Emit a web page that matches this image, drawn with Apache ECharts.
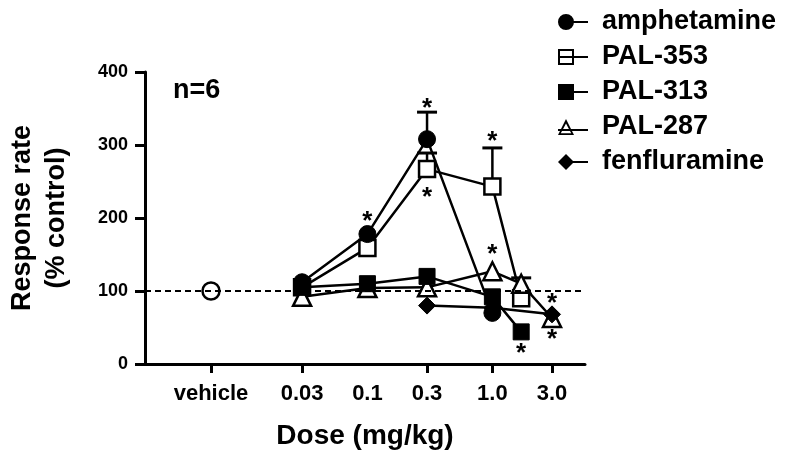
<!DOCTYPE html>
<html>
<head>
<meta charset="utf-8">
<script src="https://cdn.jsdelivr.net/npm/echarts@6/dist/echarts.min.js"></script>
<style>html,body{margin:0;padding:0;background:#fff;}#chart{width:793px;height:462px;}</style>
</head>
<body>
<div id="chart"></div>
<script>
// ---- data ----
const doses = [0.03, 0.1, 0.3, 1.0, 1.7, 3.0];
const amphetamine  = [112, 178, 308, 70, null, null];
const pal353       = [105, 159, 267, 243, 90, null];
const pal313       = [105, 110, 120, 92, 44, null];
const pal287       = [92, 104, 105, 127, 110, 63];
const fenfluramine = [null, null, 80, 77, null, 68];

const amphetamineErrTop = [null, null, 345, null, null, null];
const pal353ErrTop      = [null, null, 289, 296, null, null];
const pal287ErrTop      = [null, null, null, null, 118, null];

const vehicleDosePos = 0.0056;
const vehicleValue = 100;

const tickLabels = ['vehicle', '0.03', '0.1', '0.3', '1.0', '3.0'];
const tickLabelDoses = [0.0056, 0.03, 0.1, 0.3, 1.0, 3.0];
const tickMarkDoses = [0.0056, 0.03, 0.3, 1.0, 3.0];

const starDoses  = [0.1, 0.3, 0.3, 1.0, 1.0, 1.7, 3.0, 3.0];
const starValues = [201, 357, 234, 311, 156, 21, 89, 40];

const axisMinDose = 0.00166;
const axisMaxDose = 5.51;
const yTicks = [0, 100, 200, 300, 400];

// ---- helpers ----
const L = Math.log10;
function pairs(vals) {
  const out = [];
  vals.forEach((v, i) => { if (v != null) out.push([L(doses[i]), v]); });
  return out;
}
function errData(vals, tops) {
  const out = [];
  tops.forEach((t, i) => { if (t != null) out.push([L(doses[i]), vals[i], t]); });
  return out;
}
const FONT = '"Liberation Sans", Arial, sans-serif';

const icons = {
  fcircle: 'path://M0,8 A8,8 0 1,1 16,8 A8,8 0 1,1 0,8 Z M8,7 L30,7 L30,9 L8,9 Z',
  osquare: 'path://M0,0 L16,0 L16,16 L0,16 Z M2,2 L2,14 L14,14 L14,2 Z M0,7 L30,7 L30,9 L0,9 Z',
  fsquare: 'path://M0,0 L16,0 L16,16 L0,16 Z M8,7 L30,7 L30,9 L8,9 Z',
  otri: 'path://M8,0 L16,16 L0,16 Z M8,4.5 L2.8,14.2 L13.2,14.2 Z M0,10 L30,10 L30,12 L0,12 Z',
  fdiamond: 'path://M8,0 L16,8 L8,16 L0,8 Z M8,7 L30,7 L30,9 L8,9 Z'
};

const lineStyle = { color: '#000', width: 2.5 };

function errSeries(data) {
  return {
    type: 'custom', silent: true, z: 1,
    data: data,
    renderItem: function (params, api) {
      const p0 = api.coord([api.value(0), api.value(1)]);
      const p1 = api.coord([api.value(0), api.value(2)]);
      return {
        type: 'group',
        children: [
          { type: 'line', shape: { x1: p0[0], y1: p0[1], x2: p1[0], y2: p1[1] }, style: { stroke: '#000', lineWidth: 2.5 } },
          { type: 'line', shape: { x1: p1[0] - 10, y1: p1[1], x2: p1[0] + 10, y2: p1[1] }, style: { stroke: '#000', lineWidth: 3 } }
        ]
      };
    }
  };
}

const chart = echarts.init(document.getElementById('chart'), null, { renderer: 'canvas' });

const option = {
  backgroundColor: '#fff',
  animation: false,
  grid: { left: 145, right: 208, top: 72, bottom: 98, containLabel: false, outerBoundsMode: 'none' },
  xAxis: {
    type: 'value',
    min: L(axisMinDose), max: L(axisMaxDose),
    name: 'Dose (mg/kg)', nameLocation: 'middle', nameGap: 58,
    nameTextStyle: { fontFamily: FONT, fontWeight: 'bold', fontSize: 28, color: '#000' },
    axisLine: { onZero: false, lineStyle: { color: '#000', width: 3 } },
    axisTick: { show: true, length: 9, lineStyle: { color: '#000', width: 3 }, customValues: tickMarkDoses.map(L) },
    axisLabel: {
      customValues: tickLabelDoses.map(L),
      fontFamily: FONT, fontWeight: 'bold', fontSize: 22, color: '#000', margin: 19,
      formatter: function (v) {
        let best = 0, bd = Infinity;
        tickLabelDoses.forEach((d, i) => { const dd = Math.abs(L(d) - v); if (dd < bd) { bd = dd; best = i; } });
        return tickLabels[best];
      }
    },
    splitLine: { show: false }
  },
  yAxis: {
    type: 'value', min: yTicks[0], max: yTicks[yTicks.length - 1], interval: 100,
    name: 'Response rate\n(% control)', nameLocation: 'middle', nameGap: 71, nameRotate: 90,
    nameTextStyle: { fontFamily: FONT, fontWeight: 'bold', fontSize: 27, lineHeight: 34, color: '#000', align: 'center' },
    axisLine: { show: true, onZero: false, lineStyle: { color: '#000', width: 3 } },
    axisTick: { show: true, length: 10, lineStyle: { color: '#000', width: 3 } },
    axisLabel: { fontFamily: FONT, fontWeight: 'bold', fontSize: 18, color: '#000', margin: 17 },
    splitLine: { show: false }
  },
  legend: {
    orient: 'vertical', left: 558, top: 7, padding: 0, itemWidth: 30, itemHeight: 16, itemGap: 5,
    textStyle: { fontFamily: FONT, fontWeight: 'bold', fontSize: 27, color: '#000', lineHeight: 30, padding: [0, 0, 0, 9] },
    data: [
      { name: 'amphetamine', icon: icons.fcircle, itemStyle: { color: '#000', borderWidth: 0 } },
      { name: 'PAL-353', icon: icons.osquare, itemStyle: { color: '#000', borderWidth: 0 } },
      { name: 'PAL-313', icon: icons.fsquare, itemStyle: { color: '#000', borderWidth: 0 } },
      { name: 'PAL-287', icon: icons.otri, itemStyle: { color: '#000', borderWidth: 0 } },
      { name: 'fenfluramine', icon: icons.fdiamond, itemStyle: { color: '#000', borderWidth: 0 } }
    ]
  },
  graphic: [
    { type: 'text', left: 173, top: 77, style: { text: 'n=6', font: 'bold 27px ' + FONT, fill: '#000' } }
  ],
  series: [
    errSeries(errData(pal353, pal353ErrTop)),
    errSeries(errData(pal287, pal287ErrTop)),
    errSeries(errData(amphetamine, amphetamineErrTop)),
    {
      name: 'vehicle', type: 'line', data: [[L(vehicleDosePos), vehicleValue]],
      symbol: 'circle', symbolSize: 17,
      itemStyle: { color: '#fff', borderColor: '#000', borderWidth: 2.5 },
      lineStyle: lineStyle,
      markLine: {
        silent: true, symbol: ['none', 'none'], label: { show: false },
        lineStyle: { color: '#000', width: 2, type: [6, 4] },
        data: [{ yAxis: 100 }]
      },
      z: 3
    },
    {
      name: 'PAL-353', type: 'line', data: pairs(pal353),
      symbol: 'rect', symbolSize: 16,
      itemStyle: { color: '#fff', borderColor: '#000', borderWidth: 2.5 }, lineStyle: lineStyle, z: 3
    },
    {
      name: 'PAL-287', type: 'line', data: pairs(pal287),
      symbol: 'triangle', symbolSize: 18,
      itemStyle: { color: '#fff', borderColor: '#000', borderWidth: 2.5 }, lineStyle: lineStyle, z: 3
    },
    {
      name: 'PAL-313', type: 'line', data: pairs(pal313),
      symbol: 'rect', symbolSize: 16,
      itemStyle: { color: '#000', borderColor: '#000', borderWidth: 1 }, lineStyle: lineStyle, z: 3
    },
    {
      name: 'fenfluramine', type: 'line', data: pairs(fenfluramine),
      symbol: 'diamond', symbolSize: 17,
      itemStyle: { color: '#000', borderColor: '#000', borderWidth: 1 }, lineStyle: lineStyle, z: 3
    },
    {
      name: 'amphetamine', type: 'line', data: pairs(amphetamine),
      symbol: 'circle', symbolSize: 17,
      itemStyle: { color: '#000', borderColor: '#000', borderWidth: 1 }, lineStyle: lineStyle, z: 3
    },
    {
      type: 'custom', silent: true, z: 5,
      data: starDoses.map((d, i) => [L(d), starValues[i]]),
      renderItem: function (params, api) {
        const p = api.coord([api.value(0), api.value(1)]);
        return {
          type: 'text',
          style: { text: '*', x: p[0], y: p[1] + 5, align: 'center', verticalAlign: 'middle', font: 'bold 26px ' + FONT, fill: '#000' }
        };
      }
    }
  ]
};
chart.setOption(option);
</script>
</body>
</html>
